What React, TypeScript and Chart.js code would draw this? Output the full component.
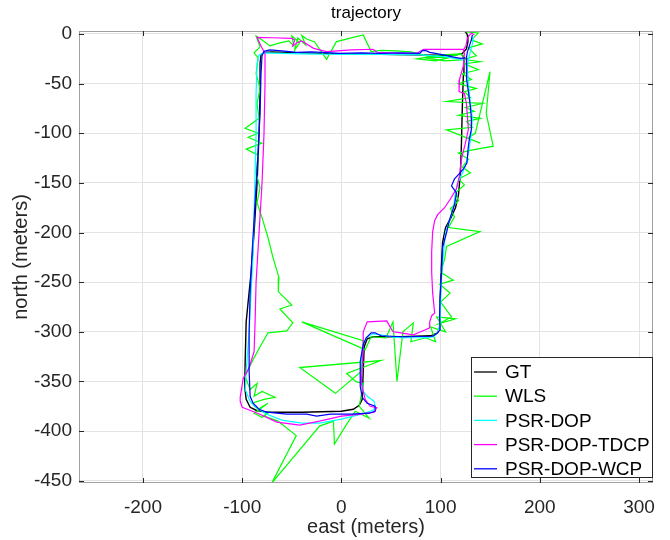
import React, { useEffect, useRef } from "react";
import { Chart, registerables } from "chart.js";

Chart.register(...registerables);

const chartTitle = "trajectory";
const xTitle = "east (meters)";
const yTitle = "north (meters)";
const seriesNames = ["GT", "WLS", "PSR-DOP", "PSR-DOP-TDCP", "PSR-DOP-WCP"];
const seriesColors = ["#000000", "#00ff00", "#00ffff", "#ff00ff", "#0000ff"];
const xTicks = [-200, -100, 0, 100, 200, 300];
const yTicks = [-450, -400, -350, -300, -250, -200, -150, -100, -50, 0];

type P = [number, number];

const gt: P[] = [
  [121, 3], [125, 2.5], [127, -1], [127.5, -8], [126, -15], [122, -19.5], [116, -21], [100, -21.5],
  [70, -21], [40, -20.5], [0, -20], [-40, -19], [-70, -18], [-78, -18.5], [-81, -21], [-82, -30],
  [-82, -60], [-83, -100], [-85, -150], [-88, -200], [-91, -240], [-94, -270], [-96, -290],
  [-97, -330], [-97.5, -355], [-96, -368], [-92, -376], [-86, -379], [-75, -381], [-40, -381],
  [0, -380], [12, -378], [18, -374], [21, -368], [22, -340], [23, -315], [26, -307], [32, -305],
  [60, -305], [90, -304], [97, -301], [99, -296], [99.5, -270], [100.5, -240], [102, -210],
  [105, -195], [110, -186], [115, -175], [118, -162], [120, -140], [121, -110], [122, -70],
  [123, -40], [123.5, -25], [122, -21],
];

const wls: P[] = [
  [126, 2], [138, 1], [131, -6], [142, -10], [128, -14], [136, -22], [122, -26], [104, -27],
  [84, -24], [112, -23], [95, -27], [76, -25], [100, -21], [121, -20], [104, -24], [86, -22],
  [70, -18], [55, -17], [40, -16.5], [30, -17.7], [22, -1], [10, -4], [-5, -7.7], [-15, -25.5],
  [-27, -8], [-35, -5], [-40, -1.5], [-36, -11], [-44, -4], [-47, -16], [-42, -9], [-50, -2],
  [-48, -12], [-53, -7], [-62, -9], [-72, -12], [-80, -6], [-86, -2], [-82, -13], [-88, -19],
  [-84, -24], [-86, -40], [-82, -55], [-85, -70], [-83, -85], [-97, -95], [-84, -100],
  [-94, -104], [-80, -110], [-96, -116], [-84, -122], [-86, -140], [-82, -155], [-85, -170],
  [-80, -185], [-74, -205], [-69, -225], [-63, -245], [-63.6, -259.5], [-50, -273], [-62, -277],
  [-49, -291], [-55, -299], [-74, -301], [-82, -315], [-89, -328], [-97, -345],
  [-92, -358], [-85, -352], [-88, -365], [-80, -360], [-67, -366], [-78, -368], [-90, -372],
  [-84, -378], [-74, -372], [-88, -382], [-80, -386], [-72, -380], [-78, -385],
  [-64, -390], [-45.5, -404.5], [-70.3, -452.5], [-22, -395], [-8, -390], [-7, -413], [6, -392],
  [14, -380], [28, -387], [18, -375],
  [22, -352], [15, -350.5], [5.3, -342], [40, -329], [-42, -336], [-6, -362], [20, -340],
  [22, -309], [-40, -290], [24, -318], [30, -305], [45, -306], [52, -290], [56, -350], [62, -300],
  [72.5, -291], [70, -310], [85, -306], [95, -310], [90, -295], [105, -300], [96, -285],
  [115, -287], [98, -292], [111, -285],
  [100, -270], [109.5, -261], [99, -252], [112.8, -248], [100, -240], [104, -227], [106, -214],
  [139.7, -199], [108, -195], [114, -184], [110, -176], [118, -168], [115, -160], [124, -152],
  [118, -146], [130, -140], [122, -134], [128, -126], [118, -120], [131, -117], [153, -113],
  [146, -80], [149.8, -38], [135, -100], [127, -105], [140, -110], [106, -96.5], [132, -94],
  [126, -88], [140, -85], [118, -82], [134, -78], [125, -74], [142, -70], [106, -68], [130, -64],
  [124, -58], [136, -55], [118, -50], [131, -46], [122, -40], [138, -36], [124, -30], [140, -28],
  [126, -26], [120, -20],
];

const psrDop: P[] = [
  [133, -3], [132, -10], [130, -18], [128, -26], [127, -35], [128, -50], [130, -70], [132, -85],
  [131, -100], [129, -115], [126, -130], [122, -140], [117, -150], [115, -160], [113, -175],
  [109, -188], [105, -200], [103, -220], [101, -245], [100, -270], [99.5, -290], [98, -299],
  [93, -305], [86, -306], [60, -306], [52, -305.5], [40, -303], [32, -302], [26, -305],
  [22, -312], [20, -325], [19, -345], [22, -360], [26, -365], [33, -370], [34, -376], [32, -379],
  [20, -383], [0, -388], [-22, -392], [-40, -392], [-60, -389], [-75, -383], [-85, -377],
  [-92, -370], [-97, -358], [-96, -340], [-93, -300], [-91, -260], [-89, -220], [-88, -180],
  [-87, -140], [-86, -100], [-86, -60], [-85, -30], [-83, -21], [-78, -19], [-60, -19.5],
  [-40, -20], [0, -20.5], [40, -20.5], [80, -21], [105, -23], [118, -25], [124, -26],
];

const psrDopTdcp: P[] = [
  [134, -1], [131, 1], [127, -4], [125.6, -12], [123, -16], [124, -20], [123, -32], [119, -46],
  [118.6, -58], [124, -60], [126, -70], [128, -96], [125, -110], [121, -126], [119, -143],
  [116, -156], [110, -166], [104, -175], [97, -182], [94, -188], [92, -199], [91, -219],
  [91, -240], [92, -261], [94, -281], [91, -284], [89, -290], [89, -296], [80, -300],
  [72.5, -303], [60, -301], [52, -300], [48, -293], [45.7, -289], [26, -290], [22, -300],
  [22, -315], [21, -335], [20, -352], [24, -368], [29, -375], [35.7, -376.5], [33, -381],
  [20, -383], [0, -385], [-22, -390], [-42, -394], [-65, -391], [-80, -384], [-87, -381],
  [-95, -378], [-100, -376], [-102, -370], [-102, -366], [-99, -347], [-93, -336], [-88, -320],
  [-87, -290], [-86, -250], [-83, -200], [-80, -150], [-78, -100], [-77, -50], [-77, -20],
  [-82, -10], [-85, -3.4], [-70, -3.8], [-50, -4.4], [-47, -6], [-49, -12], [-45, -9],
  [-40, -7], [-28, -14.5], [-15, -17.7], [10, -16], [32, -15.4], [36, -18.4], [60, -19.5],
  [76, -19.5], [83, -15.4], [100, -15.5], [123, -15.4],
];

const psrDopWcp: P[] = [
  [132, -1], [131, -6], [129, -12], [127, -18], [126, -24], [126, -35], [126.5, -46], [128, -58],
  [130, -73], [131, -85], [131, -96], [129, -106], [128, -113], [126.5, -130], [123, -136],
  [119.6, -140], [114, -146], [111, -153], [116, -160], [114, -172], [109, -187], [106, -200],
  [102, -215], [101, -240], [99.5, -265], [99, -285], [99.5, -298], [96, -302], [92, -304.5],
  [62, -305], [40, -304], [34, -301], [30, -301], [25, -306], [22, -313], [19, -330], [19, -355],
  [21, -366], [26, -372], [34, -375], [34, -380], [28, -382], [10, -383], [-11, -383],
  [-25, -385], [-35, -383], [-55, -383], [-75, -381], [-83, -378], [-89, -372], [-92, -365],
  [-93, -340], [-93, -300], [-92, -260], [-90, -220], [-87, -170], [-84, -120], [-82, -80],
  [-81, -40], [-80, -22], [-78, -17.5], [-72, -16], [-60, -17], [-45, -18.5], [-30, -18],
  [-1, -19.5], [20, -19], [40, -19.5], [60, -19], [79, -19.5], [82, -16.5], [86, -17],
  [89, -18.5], [103, -21], [112, -23], [120, -24.5], [125, -24],
];

const allSeries: P[][] = [gt, wls, psrDop, psrDopTdcp, psrDopWcp];

const FONT = "'Liberation Sans', Arial, Helvetica, sans-serif";

const overlayPlugin = {
  id: "matlabOverlay",
  afterDraw(chart: any) {
    const { ctx, chartArea, scales } = chart;
    const { left, right, top, bottom } = chartArea;
    ctx.save();
    ctx.strokeStyle = "#a0a0a0";
    ctx.lineWidth = 1;
    ctx.strokeRect(left + 0.5, top + 0.5, right - left - 1, bottom - top - 1);
    ctx.strokeStyle = "#262626";
    ctx.beginPath();
    const tl = 5;
    xTicks.forEach((v) => {
      const px = Math.round(scales.x.getPixelForValue(v)) + 0.5;
      ctx.moveTo(px, bottom);
      ctx.lineTo(px, bottom - tl);
      ctx.moveTo(px, top);
      ctx.lineTo(px, top + tl);
    });
    yTicks.forEach((v) => {
      const py = Math.round(scales.y.getPixelForValue(v)) + 0.5;
      ctx.moveTo(left, py);
      ctx.lineTo(left + tl, py);
      ctx.moveTo(right, py);
      ctx.lineTo(right - tl, py);
    });
    ctx.stroke();
    ctx.fillStyle = "#000000";
    ctx.font = `17px ${FONT}`;
    ctx.textAlign = "center";
    ctx.textBaseline = "middle";
    ctx.fillText(chartTitle, (left + right) / 2, 13);
    const lx = 471.5, ly = 357.5, lw = 181, lh = 120;
    ctx.fillStyle = "#ffffff";
    ctx.fillRect(lx, ly, lw, lh);
    ctx.strokeStyle = "#262626";
    ctx.strokeRect(lx, ly, lw, lh);
    ctx.font = `19px ${FONT}`;
    ctx.textAlign = "left";
    seriesNames.forEach((name, i) => {
      const y = 372 + i * 24.2;
      ctx.strokeStyle = seriesColors[i];
      ctx.lineWidth = 1.3;
      ctx.beginPath();
      ctx.moveTo(474, y);
      ctx.lineTo(497, y);
      ctx.stroke();
      ctx.fillStyle = "#000000";
      ctx.fillText(name, 505, y + 1);
    });
    ctx.restore();
  },
};

export default function App() {
  const ref = useRef<HTMLCanvasElement | null>(null);
  useEffect(() => {
    document.body.style.margin = "0";
    const canvas = ref.current;
    if (!canvas) return;
    const datasets = allSeries.map((s, i) => ({
      label: seriesNames[i],
      data: s.map(([x, y]) => ({ x, y })),
      borderColor: seriesColors[i],
      backgroundColor: seriesColors[i],
      borderWidth: i === 0 ? 1.4 : 1.2,
      showLine: true,
      pointRadius: 0,
      fill: false,
      tension: 0,
      order: 5 - i,
    }));
    const chart = new Chart(canvas, {
      type: "scatter",
      data: { datasets },
      plugins: [overlayPlugin],
      options: {
        animation: false,
        responsive: false,
        maintainAspectRatio: false,
        layout: { padding: { left: 0, right: 17, top: 31, bottom: 0 } },
        plugins: {
          legend: { display: false },
          tooltip: { enabled: false },
          title: { display: false },
        },
        scales: {
          x: {
            type: "linear",
            min: -264.5,
            max: 314.1,
            afterBuildTicks: (s: any) => {
              s.ticks = xTicks.map((v) => ({ value: v }));
            },
            afterFit: (s: any) => {
              s.height = 57;
            },
            grid: { color: "#e3e3e3", drawTicks: false },
            border: { display: false },
            ticks: {
              padding: 13,
              color: "#262626",
              font: { size: 19, family: FONT },
              maxRotation: 0,
              autoSkip: false,
            },
            title: {
              display: true,
              text: xTitle,
              color: "#262626",
              font: { size: 20, family: FONT },
              padding: { top: 0, bottom: 1 },
            },
          },
          y: {
            type: "linear",
            min: -452.3,
            max: 3.0,
            afterBuildTicks: (s: any) => {
              s.ticks = yTicks.map((v) => ({ value: v }));
            },
            afterFit: (s: any) => {
              s.width = 79;
            },
            grid: { color: "#e3e3e3", drawTicks: false },
            border: { display: false },
            ticks: {
              padding: 7,
              color: "#262626",
              font: { size: 19, family: FONT },
              autoSkip: false,
            },
            title: {
              display: true,
              text: yTitle,
              color: "#262626",
              font: { size: 20, family: FONT },
              padding: { top: 9, bottom: 0 },
            },
          },
        },
      } as any,
    });
    return () => chart.destroy();
  }, []);
  return (
    <div style={{ width: 670, height: 540, background: "#ffffff" }}>
      <canvas ref={ref} width={670} height={540} style={{ display: "block" }} />
    </div>
  );
}
